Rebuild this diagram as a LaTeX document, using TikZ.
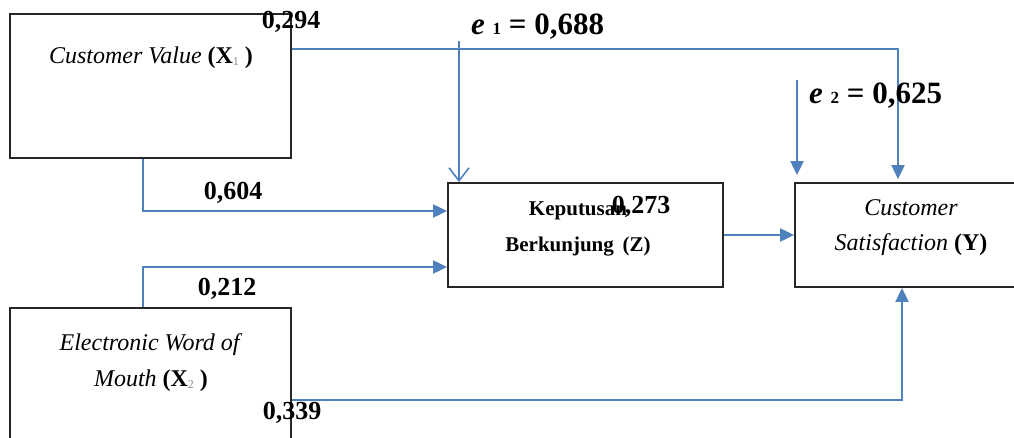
\documentclass[tikz,border=0pt]{standalone}
\usepackage{fontspec}
\setmainfont{Liberation Serif}
\usetikzlibrary{arrows.meta,calc}
\definecolor{linkblue}{HTML}{4F81BD}
\definecolor{subgray}{HTML}{8C8C8C}
\tikzset{
  box/.style={draw=black!85, line width=1.8pt, fill=white, rectangle, inner sep=0pt},
  boxtext/.style={align=center, inner sep=0pt, font=\fontsize{24}{36}\selectfont},
  coef/.style={inner sep=0pt, font=\fontsize{26}{26}\selectfont\bfseries},
  errtext/.style={inner sep=0pt, font=\fontsize{31}{31}\selectfont\bfseries},
  conn/.style={draw=linkblue, line width=2pt, -{Triangle[length=14pt,width=13pt]}},
  openconn/.style={draw=linkblue, line width=1.6pt, -{Straight Barb[length=13pt,width=20pt,line width=1.6pt]}},
}
\newcommand{\subg}[1]{\raisebox{-2pt}{\fontsize{12}{12}\selectfont\color{subgray}#1}}
\begin{document}
\begin{tikzpicture}[x=1pt,y=-1pt]
  \useasboundingbox (0,0) rectangle (1014,437);

  % construct boxes
  \node[box, minimum width=281pt, minimum height=144pt] (X1) at (150.5,86) {};
  \node[box, minimum width=281pt, minimum height=164pt] (X2) at (150.5,390) {};
  \node[box, minimum width=275pt, minimum height=104pt] (Z) at (585.5,235) {};
  \node[box, minimum width=233pt, minimum height=104pt] (Y) at (911.5,235) {};

  % box captions
  \node[boxtext] (X1t) at (151,58) {\textit{Customer Value} \textbf{(X}\subg{1}\textbf{ )}};
  \node[boxtext] (X2t) at (151,363) {\textit{Electronic Word of}\\\textit{Mouth} \textbf{(X}\subg{2}\textbf{ )}};
  \node[boxtext, font=\fontsize{21}{36}\selectfont\bfseries] (Zt) at (578,229) {Keputusan\\Berkunjung \,(Z)};
  \node[boxtext, font=\fontsize{24}{35}\selectfont] (Yt) at (911,228) {\textit{Customer}\\\textit{Satisfaction} \textbf{(Y)}};

  % helper points for routing
  \coordinate (topline) at (0,49);
  \coordinate (upper) at (0,211);
  \coordinate (lower) at (0,267);
  \coordinate (bottomline) at (0,400);
  \coordinate (leftcol) at (143,0);
  \coordinate (ycol) at (898,0);
  \coordinate (ybot) at (902,0);
  \coordinate (e1top) at (459,41);
  \coordinate (e2top) at (797,80);

  % paths between constructs
  \draw[conn, shorten >=3pt] (X1.east |- topline) -| (ycol |- Y.north);
  \draw[conn] (X1.south -| leftcol) |- (Z.west |- upper);
  \draw[conn] (X2.north -| leftcol) |- (Z.west |- lower);
  \draw[conn] (Z.east) -- (Y.west);
  \draw[conn] (X2.east |- bottomline) -| (ybot |- Y.south);

  % error terms
  \draw[openconn] (e1top) -- (e1top |- Z.north);
  \draw[conn, shorten >=7pt] (e2top) -- (e2top |- Y.north);

  % coefficients
  \node[coef] (c294) at (291,22) {0,294};
  \node[coef] (c604) at (233,193) {0,604};
  \node[coef] (c212) at (227,289) {0,212};
  \node[coef] (c339) at (292,413) {0,339};
  \node[coef] (c273) at (641,207) {0,273};
  \node[errtext, anchor=west] (e1) at (471,27) {\textit{e} {\fontsize{17}{17}\selectfont 1} = 0,688};
  \node[errtext, anchor=west] (e2) at (809,96) {\textit{e} {\fontsize{17}{17}\selectfont 2} = 0,625};
\end{tikzpicture}
\end{document}
